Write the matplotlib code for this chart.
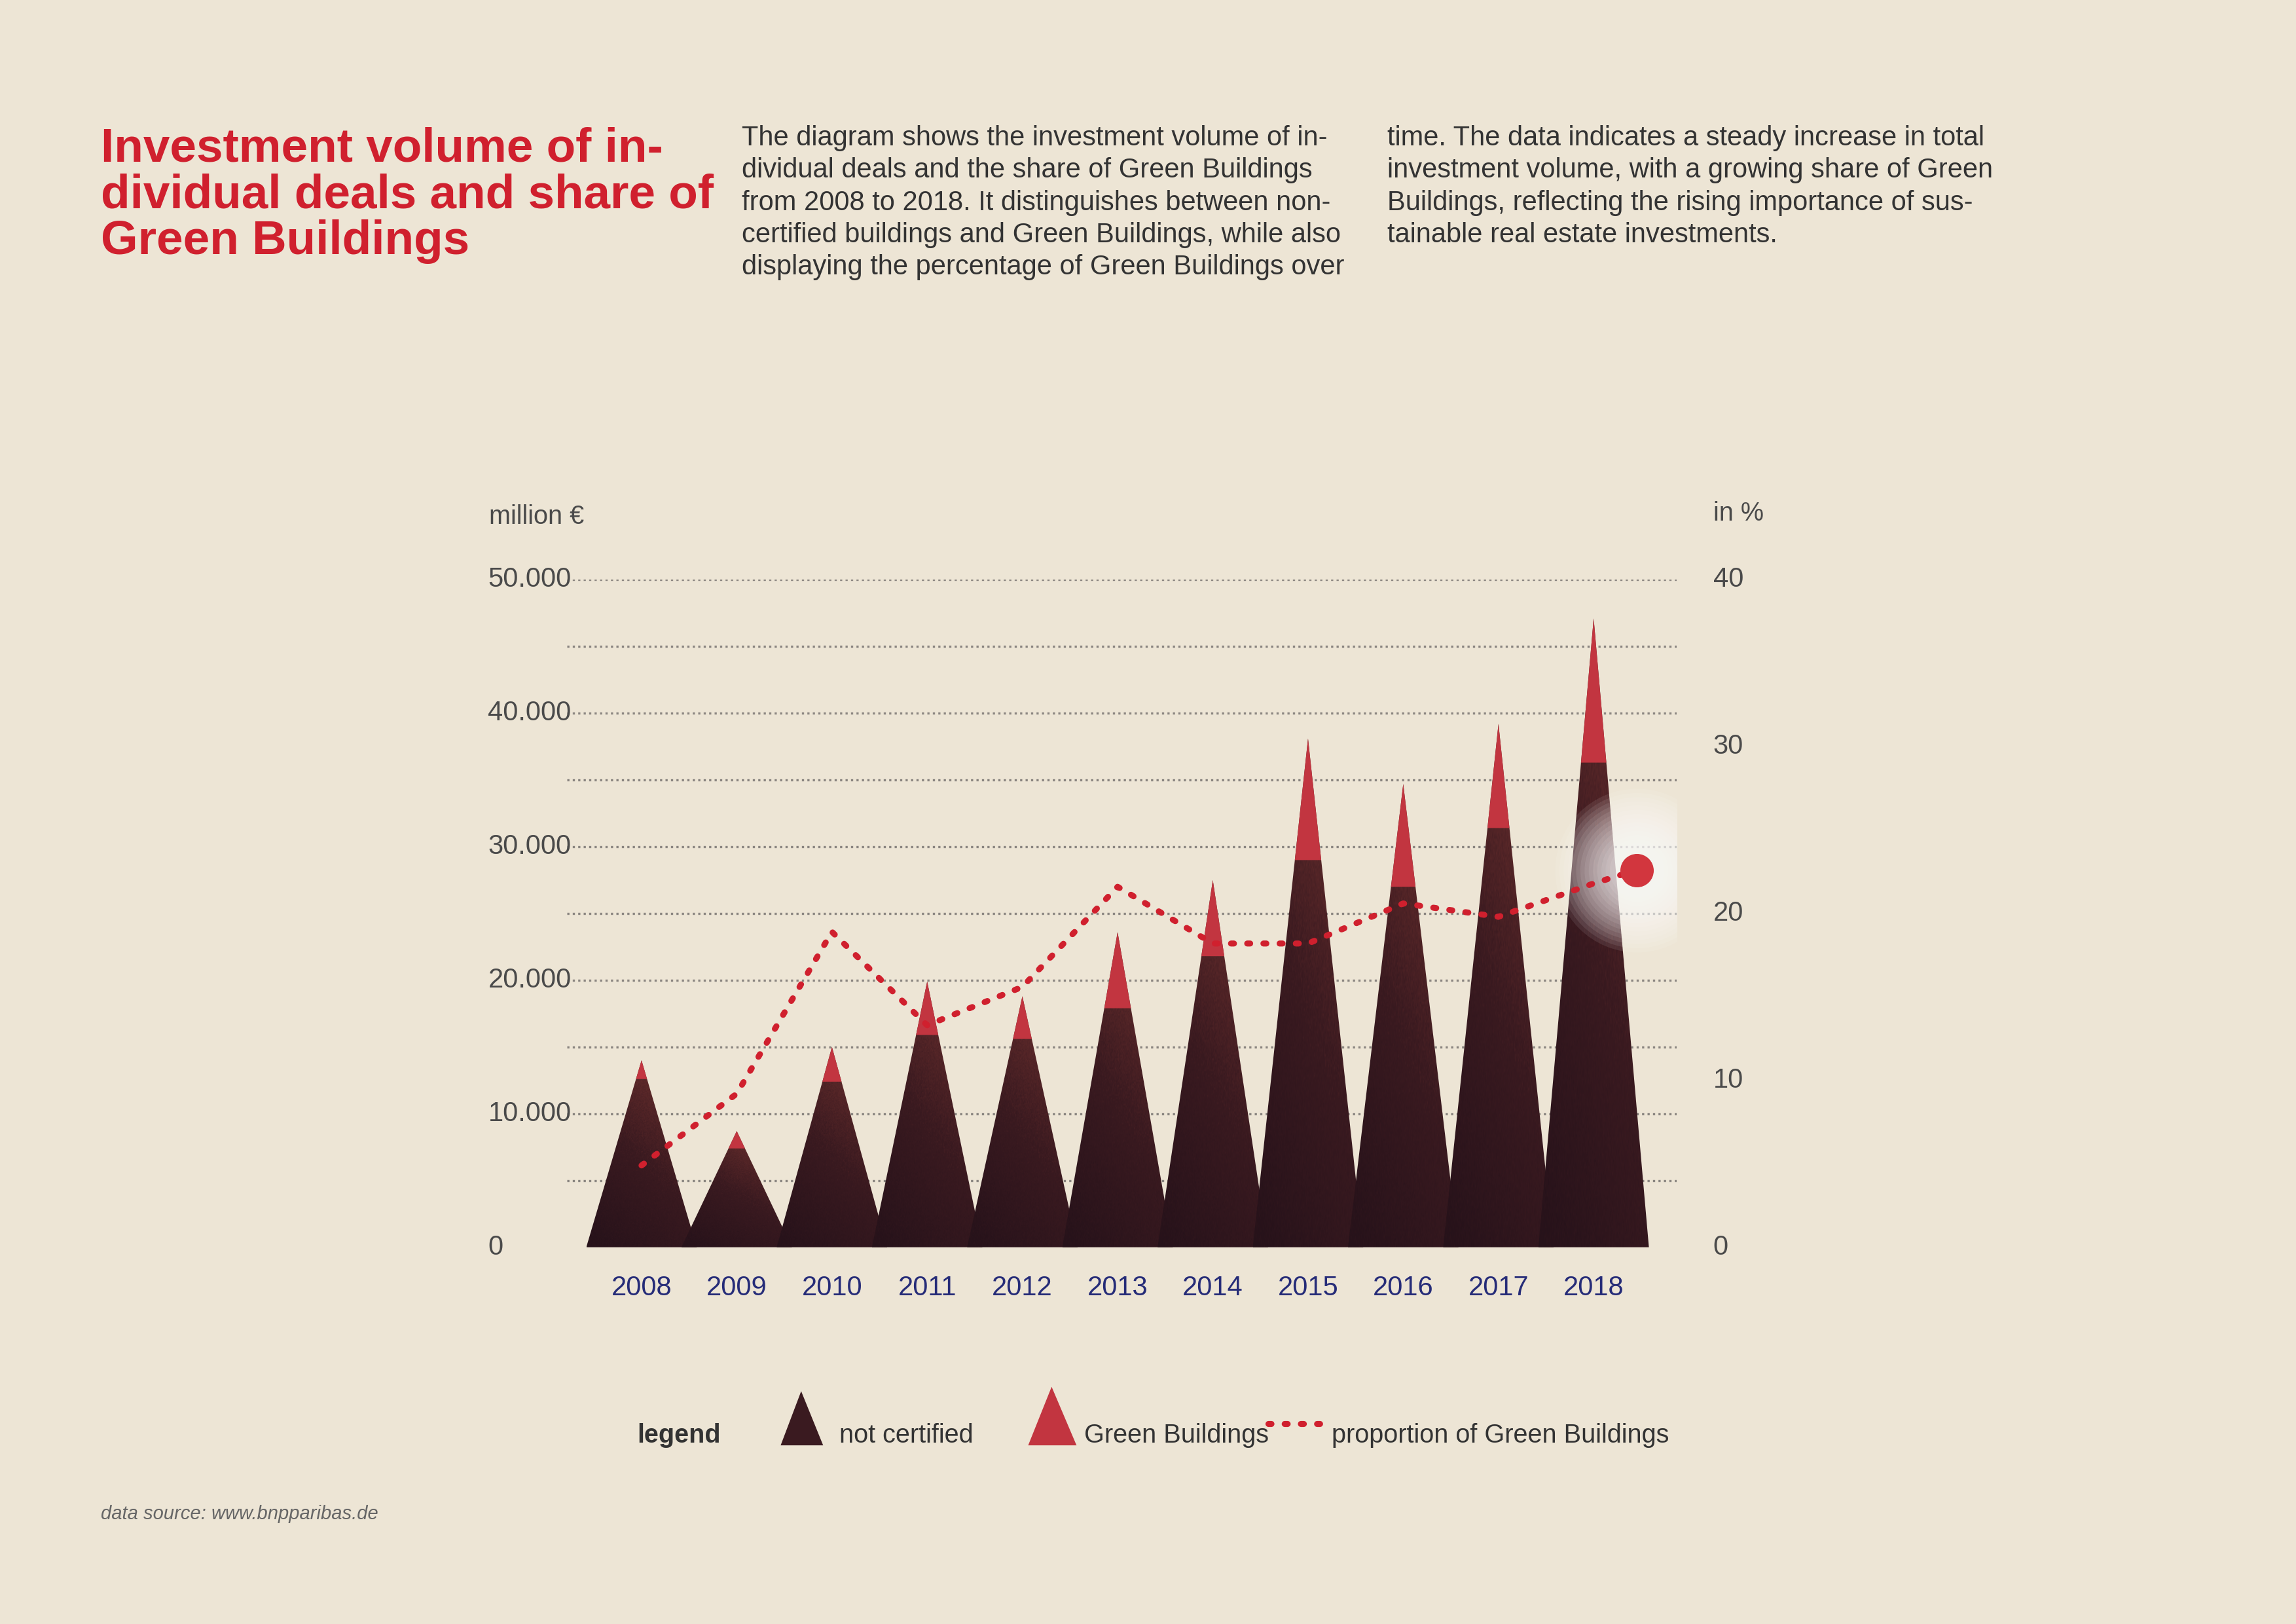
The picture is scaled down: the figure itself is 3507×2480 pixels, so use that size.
import matplotlib.pyplot as plt
import numpy as np
from matplotlib.patches import Polygon
from matplotlib.colors import LinearSegmentedColormap

years = [2008, 2009, 2010, 2011, 2012, 2013, 2014, 2015, 2016, 2017, 2018]
not_certified = [12.6, 7.4, 12.4, 15.9, 15.6, 17.9, 21.8, 29.0, 27.0, 31.4, 36.3]   # thousand million
total = [14.0, 8.7, 15.0, 19.9, 18.8, 23.6, 27.5, 38.1, 34.7, 39.2, 47.1]
share = [4.9, 9.2, 18.9, 13.3, 15.6, 21.6, 18.2, 18.2, 20.6, 19.8, 21.8]
left_ticks = [0, 10000, 20000, 30000, 40000, 50000]
left_labels = ['0', '10.000', '20.000', '30.000', '40.000', '50.000']
right_ticks = [0, 10, 20, 30, 40]

BG = '#ede5d5'
RED = '#d0202e'
TIP = '#c23540'
NAVY = '#262c78'
GREY = '#4a4a4a'
HW = 0.58

plt.rcParams['font.family'] = ['Liberation Sans', 'DejaVu Sans']
fig = plt.figure(figsize=(11.693, 8.267), dpi=300, facecolor=BG)
ax = fig.add_axes([0.247, 0.232, 0.483, 0.411])
ax.set_facecolor('none')
ax.set_xlim(2007.22, 2018.87)
ax.set_ylim(0, 50000)
for s in ax.spines.values():
    s.set_visible(False)
ax.set_xticks([]); ax.set_yticks([])

for g in range(5000, 50001, 5000):
    ax.axhline(g, color='#8a8580', lw=0.8, ls=(0, (1, 1.5)), zorder=0)

cmap = LinearSegmentedColormap.from_list('pk', ['#26121a', '#3a1a20', '#6e302e'])
yy, xx = np.mgrid[0:1:200j, 0:1:200j]
grad = (1 - yy) * 0.7 + xx * 0.35
rng = np.random.default_rng(1)
grad = grad + rng.normal(0, 0.04, grad.shape)

for i, y in enumerate(years):
    nc = not_certified[i] * 1000
    tt = total[i] * 1000
    tri = Polygon([(y - HW, 0), (y + HW, 0), (y, tt)], closed=True, fc='none', ec='none')
    ax.add_patch(tri)
    im = ax.imshow(grad, cmap=cmap, extent=(y - HW, y + HW, 0, tt), origin='upper',
                   aspect='auto', vmin=0, vmax=1, zorder=2 + i, interpolation='bilinear')
    im.set_clip_path(tri)
    frac = nc / tt
    ax.add_patch(Polygon([(y - HW * (1 - frac), nc), (y + HW * (1 - frac), nc), (y, tt)],
                         closed=True, fc=TIP, ec='none', zorder=2.5 + i))

ax2 = ax.twinx()
ax2.set_ylim(0, 40)
ax2.set_axis_off()
xs = years + [2018.45]
ys = share + [22.6]
ax2.plot(xs, ys, color=RED, lw=2.2, ls=(0, (0.5, 2.2)), dash_capstyle='round', zorder=20)
for r in np.linspace(60, 20, 14):
    ax2.scatter([2018.45], [22.6], s=r ** 2, color='white', alpha=0.09, lw=0, zorder=19)
ax2.scatter([2018.45], [22.6], s=150, color='#d2363e', lw=0, zorder=21)

for v, l in zip(left_ticks, left_labels):
    ax.text(-0.0714, v, l, transform=ax.get_yaxis_transform(), ha='left', va='center',
            fontsize=10, color=GREY)
for v in right_ticks:
    ax2.text(1.033, v, str(v), transform=ax2.get_yaxis_transform(), ha='left', va='center',
             fontsize=10, color=GREY)
for y in years:
    ax.text(y, -0.061, str(y), transform=ax.get_xaxis_transform(), ha='center', va='center',
            fontsize=10, color=NAVY)
fig.text(0.213, 0.682, 'million €', fontsize=9.5, color=GREY, va='center')
fig.text(0.746, 0.684, 'in %', fontsize=9.5, color=GREY, va='center')

fig.text(0.044, 0.922, 'Investment volume of in-\ndividual deals and share of\nGreen Buildings',
         fontsize=17.5, fontweight='bold', color=RED, va='top', linespacing=1.05)
fig.text(0.323, 0.923, 'The diagram shows the investment volume of in-\ndividual deals and the share of Green Buildings\n'
         'from 2008 to 2018. It distinguishes between non-\ncertified buildings and Green Buildings, while also\n'
         'displaying the percentage of Green Buildings over', fontsize=10, color='#333333', va='top', linespacing=1.3)
fig.text(0.604, 0.923, 'time. The data indicates a steady increase in total\ninvestment volume, with a growing share of Green\n'
         'Buildings, reflecting the rising importance of sus-\ntainable real estate investments.',
         fontsize=10, color='#333333', va='top', linespacing=1.3)

# legend
ly = 1 - 980 / 1109
fig.text(435 / 1568, ly, 'legend', fontsize=9.5, fontweight='bold', color='#333333', va='center')
lax = fig.add_axes([0, 0, 1, 1], facecolor='none')
lax.set_xlim(0, 1568); lax.set_ylim(1109, 0); lax.set_axis_off()
lax.add_patch(Polygon([(533, 987), (562, 987), (547, 950)], fc='#3a1a20', ec='none'))
lax.add_patch(Polygon([(702, 987), (735, 987), (718, 947)], fc=TIP, ec='none'))
lax.plot([866, 905], [972, 972], color=RED, lw=2.2, ls=(0, (0.5, 2.2)), dash_capstyle='round')
fig.text(573 / 1568, ly, 'not certified', fontsize=9.5, color='#333333', va='center')
fig.text(740 / 1568, ly, 'Green Buildings', fontsize=9.5, color='#333333', va='center')
fig.text(909 / 1568, ly, 'proportion of Green Buildings', fontsize=9.5, color='#333333', va='center')
fig.text(69 / 1568, 1 - 1034 / 1109, 'data source: www.bnpparibas.de', fontsize=7, style='italic',
         color='#666666', va='center')

fig.savefig('out.png', dpi=300, facecolor=BG)
